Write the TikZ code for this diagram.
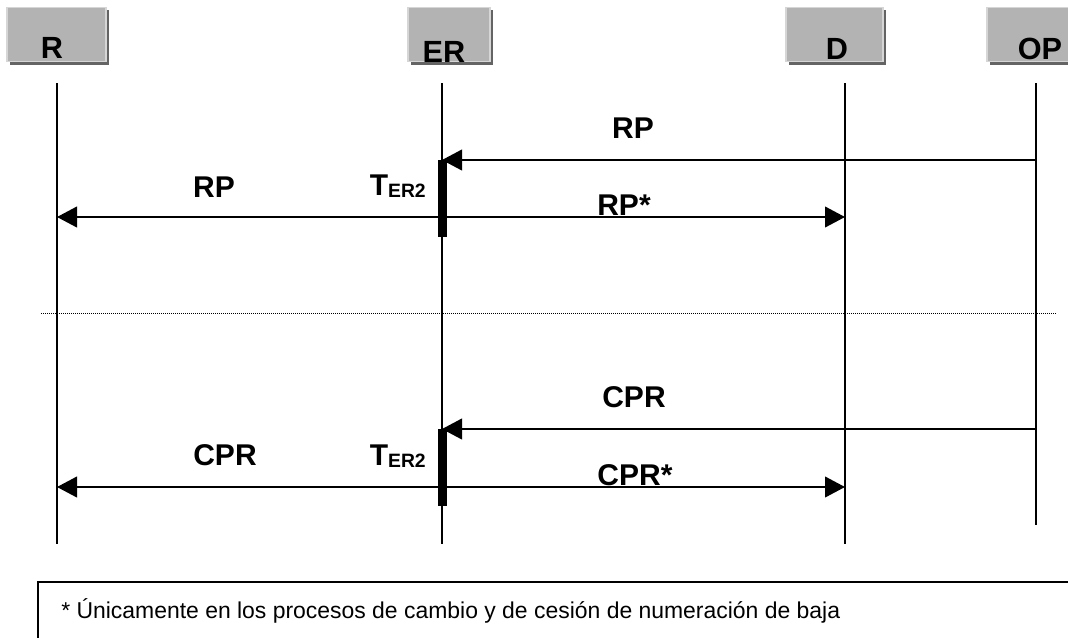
\documentclass[tikz,border=0pt]{standalone}
\usepackage{fontspec}
\setmainfont{Liberation Sans}
\usetikzlibrary{arrows.meta,shadows}
\definecolor{boxgray}{RGB}{179,179,179}
\definecolor{edgegray}{RGB}{214,214,214}
\definecolor{shadowgray}{RGB}{100,100,100}

\begin{document}
\begin{tikzpicture}[x=0.75pt,y=-0.75pt,>={Triangle[length=15pt,width=15.5pt]}]
        \useasboundingbox (0,0) rectangle (1068,637);
        \clip (0,0) rectangle (1068,637);
        \tikzstyle{actor} = [fill=boxgray,draw=edgegray,line width=0.8pt,minimum height=41pt,inner sep=0pt,
          drop shadow={shadow xshift=2.2pt,shadow yshift=-2.2pt,fill=shadowgray,opacity=1}]
        \tikzstyle{actorlbl} = [anchor=base,inner sep=0pt,font=\fontsize{23}{27}\selectfont\bfseries]
        \tikzstyle{lbl} = [anchor=base,inner sep=0pt,font=\fontsize{22.5}{27}\selectfont\bfseries]
        \tikzstyle{lifeline} = [line width=0.95pt]
        \tikzstyle{msg} = [line width=1.5pt]
        \tikzstyle{timer} = [line width=6.75pt]

        % actor boxes and their names
        \foreach \n/\cx/\w/\lx/\by in {R/56.5/99/52/58, ER/449/82/444/62,
          D/834.5/97/837/59, OP/1037/100/1040/59} {
          \node[actor,minimum width=\w*0.75pt] (box\n) at (\cx,34.5) {};
          \node[actorlbl] (\n) at (\lx,\by) {\n};
        }

        % lifelines, with a point on each at every message
        \foreach \n/\x/\yb in {R/57/544, ER/442/544, D/845/544, OP/1036/525} {
          \coordinate (\n-top) at (\x,83);
          \coordinate (\n-bot) at (\x,\yb);
          \foreach \m/\y in {a/160, b/217, c/429, d/487}
            \coordinate (\n-\m) at (\x,\y);
          \draw[lifeline] (\n-top) -- (\n-bot);
        }

        % RP
        \draw[msg,->] (OP-a) -- (ER-a);
        \draw[msg,<->] (R-b) -- (D-b);
        \draw[timer] (ER-a) -- ++(0,77);
        \node[lbl] (rpOP) at (633,138) {RP};
        \node[lbl] (rpR) at (214,197) {RP};
        \node[lbl] (rpD) at (624,215) {RP*};
        \node[lbl,anchor=base east] (tRP) at (426,195) {T\raisebox{-1.5pt}{\fontsize{14.5}{16}\selectfont ER2}};

        % separator
        \coordinate (sepL) at (41,313);
        \coordinate (sepR) at (1057,313);
        \draw[line width=0.75pt,dash pattern=on 0.75pt off 0.75pt] (sepL) -- (sepR);

        % CPR
        \draw[msg,->] (OP-c) -- (ER-c);
        \draw[msg,<->] (R-d) -- (D-d);
        \draw[timer] (ER-c) -- ++(0,77);
        \node[lbl] (cprOP) at (634,407) {CPR};
        \node[lbl] (cprR) at (225,465) {CPR};
        \node[lbl] (cprD) at (635,485) {CPR*};
        \node[lbl,anchor=base east] (tCPR) at (426,465) {T\raisebox{-1.5pt}{\fontsize{14.5}{16}\selectfont ER2}};

        % footnote
        \draw[line width=1.1pt] (38,582) rectangle (1090,660);
        \node[anchor=base west,inner sep=0pt,font=\fontsize{17.2}{20}\selectfont] (note) at (61,618)
          {* Únicamente en los procesos de cambio y de cesión de numeración de baja};
\end{tikzpicture}
\end{document}
